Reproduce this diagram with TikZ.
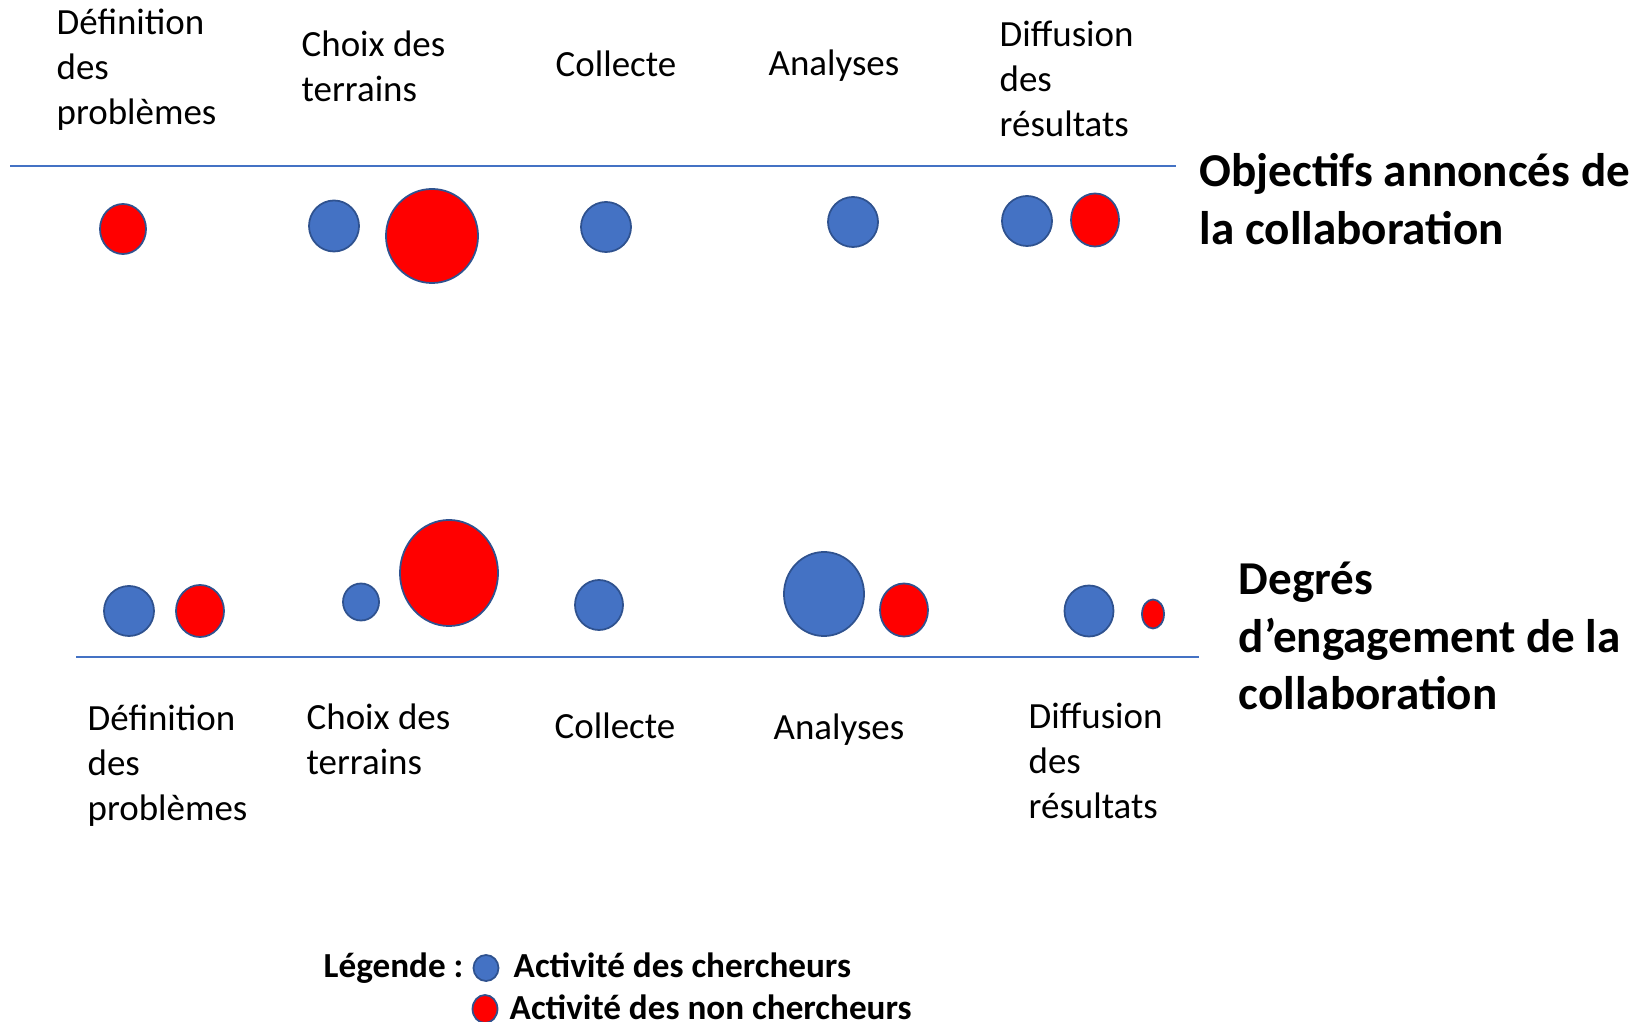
\documentclass[tikz,border=0pt]{standalone}
\usepackage{fontspec}
\setmainfont{Carlito}
\usetikzlibrary{positioning,shapes.geometric}
\definecolor{OfficeBlue}{RGB}{68,114,196}
\definecolor{OfficeEdge}{RGB}{47,82,143}
\definecolor{PureRed}{RGB}{255,0,0}

\begin{document}
\begin{tikzpicture}[x=0.01cm, y=-0.01cm,
    dot/.style 2 args={ellipse, draw=OfficeEdge, line width=0.5pt, inner sep=0pt,
                 minimum width=#1cm, minimum height=#2cm},
    cherch/.style 2 args={dot={#1}{#2}, fill=OfficeBlue},
    noncherch/.style 2 args={dot={#1}{#2}, fill=PureRed},
    phase/.style={anchor=west, align=left, inner sep=0pt,
                 font=\fontsize{10.5}{12.8}\selectfont},
    titre/.style={anchor=west, align=left, inner sep=0pt,
                 font=\bfseries\fontsize{13.4}{16.4}\selectfont},
    legende/.style={anchor=base west, inner sep=0pt,
                 font=\bfseries\fontsize{10}{12.2}\selectfont},
    axe/.style={draw=OfficeBlue}
]
    \useasboundingbox (0,0) rectangle (1639,1022);

    % objectifs annonces
    \node[phase] (def1) at (56,70) {Définition\\des\\problèmes};
    \node[phase] (choix1) at (301,66) {Choix des\\terrains};
    \node[phase] (coll1) at (555,64) {Collecte};
    \node[phase] (ana1) at (768,66) {Analyses};
    \node[phase] (diff1) at (999,79) {Diffusion\\des\\résultats};
    \coordinate (hautG) at (10,166);
    \coordinate (hautD) at (1176,166);
    \draw[axe, line width=0.4pt] (hautG) -- (hautD);
    \node[titre] (obj) at (1199,199) {Objectifs annoncés de\\la collaboration};

    \node[noncherch={0.46}{0.50}] (o1r) at (123,229) {};
    \node[cherch={0.50}{0.51}] (o2b) at (334,226) {};
    \node[noncherch={0.92}{0.94}] (o2r) at (432,236) {};
    \node[cherch={0.50}{0.50}] (o3b) at (606,227) {};
    \node[cherch={0.50}{0.50}] (o4b) at (853,222) {};
    \node[cherch={0.50}{0.50}] (o5b) at (1027,221) {};
    \node[noncherch={0.48}{0.53}] (o5r) at (1095,220) {};

    % degres d'engagement
    \node[cherch={0.50}{0.50}] (e1b) at (129,611) {};
    \node[noncherch={0.48}{0.52}] (e1r) at (200,611) {};
    \node[cherch={0.36}{0.37}] (e2b) at (361,602) {};
    \node[noncherch={0.98}{1.06}] (e2r) at (449,573) {};
    \node[cherch={0.48}{0.50}] (e3b) at (599,605) {};
    \node[cherch={0.80}{0.84}] (e4b) at (824,594) {};
    \node[noncherch={0.48}{0.53}] (e4r) at (904,610) {};
    \node[cherch={0.49}{0.51}] (e5b) at (1089,611) {};
    \node[noncherch={0.22}{0.29}] (e5r) at (1153,614) {};

    \coordinate (basG) at (76,657);
    \coordinate (basD) at (1199,657);
    \draw[axe, line width=0.8pt] (basG) -- (basD);
    \node[titre] (deg) at (1238,636) {Degrés\\d’engagement de la\\collaboration};

    \node[phase] (def2) at (87,766) {Définition\\des\\problèmes};
    \node[phase] (choix2) at (306,739) {Choix des\\terrains};
    \node[phase] (coll2) at (554,726) {Collecte};
    \node[phase] (ana2) at (773,730) {Analyses};
    \node[phase] (diff2) at (1028,761) {Diffusion\\des\\résultats};

    % legende
    \node[legende] (leg) at (323,977) {Légende :};
    \node[cherch={0.25}{0.26}] (legb) at (486,968) {};
    \node[legende] (legbt) at (513,977) {Activité des chercheurs};
    \node[noncherch={0.25}{0.28}] (legr) at (485,1009) {};
    \node[legende] (legrt) at (509,1019) {Activité des non chercheurs};
\end{tikzpicture}
\end{document}
